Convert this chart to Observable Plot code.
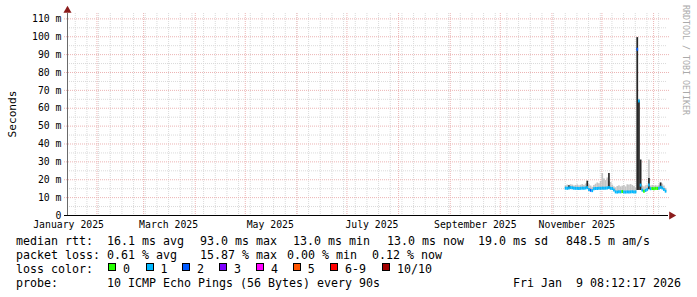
<!DOCTYPE html>
<html><head><meta charset="utf-8">
<script src="https://cdn.jsdelivr.net/npm/d3@7"></script>
<script src="https://cdn.jsdelivr.net/npm/@observablehq/plot@0.6"></script>
<style>
body{margin:0;background:#fff;}
#wrap{position:relative;width:697px;height:297px;background:#fff;font-family:"DejaVu Sans Mono",monospace;color:#000;overflow:hidden}
#wrap svg{position:absolute;left:0;top:0}
.t{position:absolute;white-space:pre;font-size:11.63px;line-height:14px}
.sq{position:absolute;width:8px;height:8px;box-sizing:border-box;border:1px solid #000}
</style></head><body><div id="wrap"></div>
<script>
// ---- data ----
const xStart = "2025-01-14T08:12:17Z";
const xEnd = "2026-01-09T08:12:17Z";
const yMax = 113;
const yTicks = [0, 10, 20, 30, 40, 50, 60, 70, 80, 90, 100, 110];
const monthLabels = ["2025-01-15", "2025-03-16", "2025-05-16", "2025-07-16", "2025-09-16", "2025-11-16"];

const days = [
  "2025-11-09","2025-11-10","2025-11-11","2025-11-12","2025-11-13","2025-11-14","2025-11-15","2025-11-16",
  "2025-11-17","2025-11-18","2025-11-19","2025-11-20","2025-11-21","2025-11-22","2025-11-23","2025-11-24",
  "2025-11-25","2025-11-26","2025-11-27","2025-11-28","2025-11-29","2025-11-30","2025-12-01","2025-12-02",
  "2025-12-03","2025-12-04","2025-12-05","2025-12-06","2025-12-07","2025-12-08","2025-12-09","2025-12-10",
  "2025-12-11","2025-12-12","2025-12-13","2025-12-14","2025-12-15","2025-12-16","2025-12-17","2025-12-18",
  "2025-12-19","2025-12-20","2025-12-21","2025-12-22","2025-12-23","2025-12-24","2025-12-25","2025-12-26",
  "2025-12-27","2025-12-28","2025-12-29","2025-12-30","2025-12-31","2026-01-01","2026-01-02","2026-01-03",
  "2026-01-04","2026-01-05","2026-01-06","2026-01-07","2026-01-08"
];
const median = [
  15.3,15.2,15.4,15.6,15.5,15.3,15.2,15.2, 15.1,15.2,15.3,15.2,15.4,15.6,14.6,14.1,
  13.9,15.0,15.1,15.1,15.2,15.2,15.3,15.2, 15.3,15.4,15.6,15.2,15.1,14.2,13.2,13.1,
  13.3,13.2,13.4,13.2,13.1,13.2,13.1,13.2, 13.3,13.1,13.2,93.0,64.0,17.0,14.2,13.6,
  14.0,14.6,17.0,15.0,15.1,15.0,15.2,15.1, 15.3,15.8,15.4,14.6,13.6
];
const smokeLo = [
  14.6,14.5,14.6,14.8,14.7,14.6,14.5,14.5, 14.4,14.5,14.6,14.5,14.6,14.8,13.9,13.5,
  13.3,14.3,14.4,14.4,14.5,14.5,14.5,14.4, 14.5,14.6,14.8,14.5,14.4,13.6,12.7,12.6,
  12.7,12.6,12.8,12.6,12.6,12.6,12.5,12.6, 12.7,12.6,12.7,14.0,14.0,14.0,13.6,13.0,
  13.4,13.9,14.2,14.3,14.4,14.3,14.5,14.4, 14.5,14.8,14.6,14.0,13.0
];
const smokeHi = [
  16.6,17.0,16.8,17.2,17.0,16.5,16.8,17.1, 16.6,16.9,17.3,16.8,17.6,18.0,17.2,16.5,
  15.8,16.8,17.5,18.2,17.8,19.0,23.5,20.5, 19.5,21.0,19.0,18.5,17.0,16.0,15.5,16.2,
  16.6,16.0,16.4,16.8,16.0,17.2,17.0,17.3, 16.8,16.2,15.4,99.5,65.0,31.0,16.5,16.0,
  16.6,17.0,31.0,16.5,16.8,16.4,16.7,16.4, 17.0,18.2,17.6,16.5,15.2
];
const lossIdx = [
  1,1,1,1,1,1,1,1, 1,1,1,1,1,1,1,2,
  1,1,1,1,1,1,1,1, 1,1,1,1,1,1,1,1,
  1,1,0,1,1,1,1,1, 1,1,1,2,1,1,1,0,
  1,1,1,1,0,0,0,0, 1,1,1,1,1
];
const spikeDays = ["2025-11-11","2025-11-22","2025-12-05","2025-12-22","2025-12-23","2025-12-24","2025-12-29","2026-01-05"];
const spikeLo = [15.0, 15.2, 15.0, 14.0, 14.0, 14.0, 14.5, 15.0];
const spikeHi = [16.6, 19.2, 23.5, 99.5, 64.0, 31.0, 20.7, 18.2];

const lossLabels = ["0", "1", "2", "3", "4", "5", "6-9", "10/10"];
const lossColors = ["#26ff00", "#00b8ff", "#0059ff", "#7e00ff", "#ff00ff", "#ff5500", "#ff0000", "#a10000"];

const legendRtt = ["median rtt:  16.1 ms avg", "93.0 ms max", "13.0 ms min", "13.0 ms now", "19.0 ms sd", "848.5 m am/s"];
const legendLoss = ["packet loss: 0.61 % avg", "15.87 % max", "0.00 % min", "0.12 % now"];
const legendProbe = ["probe:", "10 ICMP Echo Pings (56 Bytes) every 90s"];
const stamp = "Fri Jan  9 08:12:17 2026";

// ---- build ----
const x0 = new Date(xStart), x1 = new Date(xEnd);
const rows = days.map((d, i) => {
  const t = new Date(d);
  return {date: t, next: d3.utcDay.offset(t, 1), med: median[i], lo: smokeLo[i], hi: smokeHi[i], color: lossColors[lossIdx[i]]};
});
const spikes = spikeDays.map((d, i) => {
  const t = new Date(d);
  return {date: t, next: d3.utcDay.offset(t, 1), lo: spikeLo[i], hi: spikeHi[i]};
});
const weeks = d3.utcSunday.range(x0, x1);
const months = d3.utcMonth.range(x0, x1);
const majorY = yTicks.filter(v => v > 0);
const minorY = majorY.map(v => v - 5);

const chart = Plot.plot({
  width: 697, height: 232,
  marginLeft: 67, marginRight: 30, marginTop: 13, marginBottom: 17,
  style: {fontFamily: "DejaVu Sans Mono", fontSize: "9.8px", color: "#000", background: "transparent"},
  color: {type: "identity"},
  x: {type: "utc", domain: [x0, x1], ticks: monthLabels.map(d => new Date(d)), tickFormat: d3.utcFormat("%B %Y"), tickSize: 0, tickPadding: 6, label: null},
  y: {domain: [0, yMax], ticks: yTicks, tickFormat: v => v === 0 ? "0" : v + " m", tickSize: 0, tickPadding: 6, label: null},
  marks: [
    Plot.ruleY(minorY, {stroke: "#dadada", strokeDasharray: "1,1"}),
    Plot.ruleX(weeks, {stroke: "#dadada", strokeDasharray: "1,1"}),
    Plot.ruleY(majorY, {stroke: "#ecb4b4", strokeDasharray: "1,1", insetLeft: -3, insetRight: -2}),
    Plot.ruleX(months, {stroke: "#ecb4b4", strokeDasharray: "1,1"}),
    Plot.rect(rows, {x1: "date", x2: "next", y1: "lo", y2: "hi", fill: "#c4c4c4"}),
    Plot.rect(spikes, {x1: "date", x2: "next", y1: "lo", y2: "hi", fill: "#262626"}),
    Plot.ruleY(rows, {x1: "date", x2: "next", y: "med", stroke: "color", strokeWidth: 3}),
    Plot.ruleX([x0], {stroke: "#6a6a6a"}),
    Plot.ruleY([0], {stroke: "#000", insetLeft: -3, insetRight: -1}),
    Plot.dot([yMax], {x: () => x0, y: d => d, symbol: "triangle", r: 3, fill: "#8b1c1c", stroke: "none", dy: -3}),
    Plot.dot([0], {x: () => x1, y: d => d, symbol: "triangle", r: 3, fill: "#8b1c1c", stroke: "none", rotate: 90, dx: 4})
  ]
});

const wrap = document.getElementById("wrap");
wrap.appendChild(chart);

function addText(str, left, top, extra) {
  const el = document.createElement("div");
  el.className = "t";
  el.textContent = str;
  el.style.left = left + "px";
  el.style.top = top + "px";
  if (extra) Object.assign(el.style, extra);
  wrap.appendChild(el);
  return el;
}
// axis title + watermark
addText("Seconds", 12.5, 114, {fontSize: "11.2px", transform: "translate(-50%,-50%) rotate(-90deg)"});
addText("RRDTOOL / TOBI OETIKER", 686, 60, {fontSize: "8.3px", color: "#aaaaaa", transform: "translate(-50%,-50%) rotate(90deg)"});

// legend
const rttX = [16, 200, 293, 387, 478, 566];
legendRtt.forEach((s, i) => addText(s, rttX[i], 234));
const lossX = [16, 200, 287, 372];
legendLoss.forEach((s, i) => addText(s, lossX[i], 248));
addText("loss color:", 16, 262);
const sqX = [108, 145.5, 182, 219, 256, 292.7, 330, 382];
lossLabels.forEach((s, i) => {
  const sq = document.createElement("div");
  sq.className = "sq";
  sq.style.left = sqX[i] + "px";
  sq.style.top = "263px";
  sq.style.background = lossColors[i];
  wrap.appendChild(sq);
  addText(s, sqX[i] + 15, 262);
});
addText(legendProbe[0], 16, 276);
addText(legendProbe[1], 107, 276);
addText(stamp, 513, 276);
</script></body></html>
